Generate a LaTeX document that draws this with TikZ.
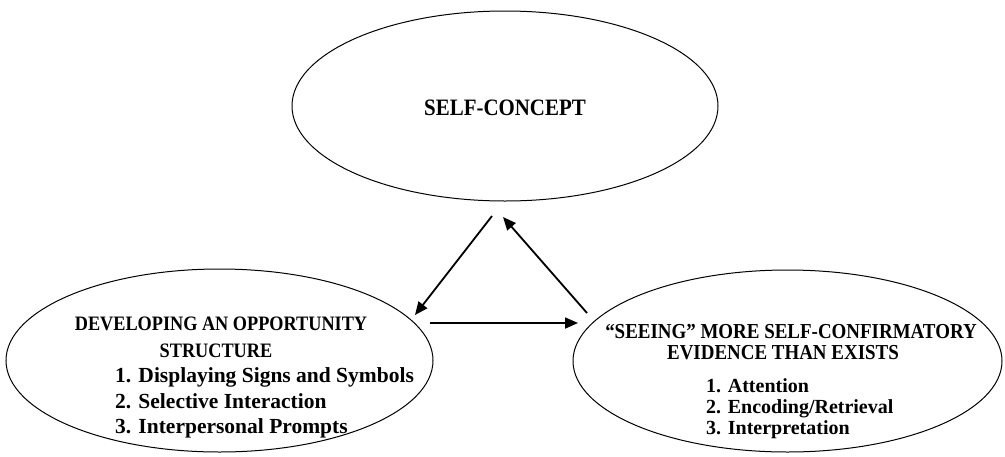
\documentclass[tikz,border=0pt]{standalone}
\usepackage{fontspec}
\setmainfont{Liberation Serif}
\newfontfamily\hdrfont[FakeStretch=0.89]{Liberation Serif}
\usetikzlibrary{arrows.meta,shapes.geometric}
\begin{document}
\begin{tikzpicture}[x=1pt,y=-1pt,
  oval/.style={draw, ellipse, line width=1pt, inner sep=0pt},
  lbl/.style={inner sep=0pt},
  arr/.style={line width=1.8pt, -{Triangle[length=13pt,width=11pt]}}]
\useasboundingbox (0,0) rectangle (1005,456);
% ellipses
\node[oval, minimum width=426pt, minimum height=190pt] (top) at (505,106) {};
\node[oval, minimum width=427pt, minimum height=183pt] (left) at (219.5,360.5) {};
\node[oval, minimum width=429pt, minimum height=182pt] (right) at (787.5,361) {};
% texts
\node[lbl, anchor=base, font=\hdrfont\fontsize{23.5}{26}\selectfont\bfseries] (tc) at (505,115) {SELF-CONCEPT};
\node[lbl, anchor=base, font=\hdrfont\fontsize{20.5}{22}\selectfont\bfseries] (lh1) at (221,330) {DEVELOPING AN OPPORTUNITY};
\node[lbl, anchor=base, font=\hdrfont\fontsize{20.5}{22}\selectfont\bfseries] (lh2) at (216,357) {STRUCTURE};
\node[lbl, anchor=base west, font=\fontsize{21.5}{24}\selectfont\bfseries] (l1) at (115,382) {1. Displaying Signs and Symbols};
\node[lbl, anchor=base west, font=\fontsize{21.5}{24}\selectfont\bfseries] (l2) at (115,408) {2. Selective Interaction};
\node[lbl, anchor=base west, font=\fontsize{21.5}{24}\selectfont\bfseries] (l3) at (115,433) {3. Interpersonal Prompts};
\node[lbl, anchor=base, font=\hdrfont\fontsize{21.3}{23}\selectfont\bfseries] (rh1) at (791,338) {“SEEING” MORE SELF-CONFIRMATORY};
\node[lbl, anchor=base, font=\hdrfont\fontsize{21.3}{23}\selectfont\bfseries] (rh2) at (783,359) {EVIDENCE THAN EXISTS};
\node[lbl, anchor=base west, font=\fontsize{20}{22}\selectfont\bfseries] (r1) at (706,392) {1. Attention};
\node[lbl, anchor=base west, font=\fontsize{20}{22}\selectfont\bfseries] (r2) at (706,413) {2. Encoding/Retrieval};
\node[lbl, anchor=base west, font=\fontsize{20}{22}\selectfont\bfseries] (r3) at (706,434) {3. Interpretation};
% arrow end points
\coordinate (a1s) at (492,216);
\coordinate (a1e) at (415,315);
\coordinate (a2s) at (430,323);
\coordinate (a2e) at (578,323);
\coordinate (a3s) at (587,313);
\coordinate (a3e) at (503,217);
\draw[arr] (a1s) -- (a1e);
\draw[arr] (a2s) -- (a2e);
\draw[arr] (a3s) -- (a3e);
\end{tikzpicture}
\end{document}
